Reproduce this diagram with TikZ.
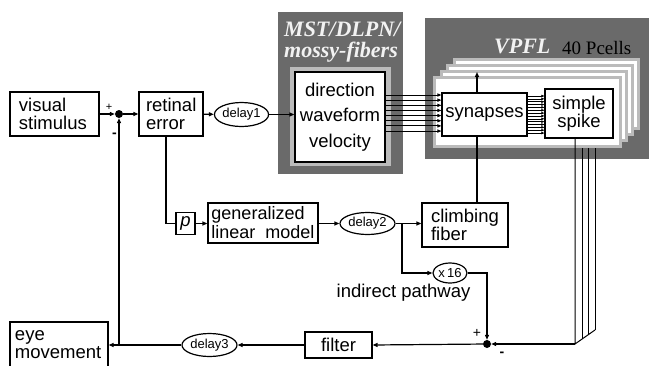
\documentclass[tikz,border=0pt]{standalone}
\usepackage{fontspec}
\setmainfont{Liberation Serif}
\setsansfont{Liberation Sans}
\usetikzlibrary{arrows.meta,calc,shapes.geometric}

\definecolor{panel}{HTML}{6A6A6A}
\definecolor{rim}{HTML}{BBBBBB}
\definecolor{title}{HTML}{F2F2F2}

\begin{document}
\begin{tikzpicture}[x=1pt,y=-1pt,
  lab/.style={font=\sffamily\fontsize{18.5}{18}\selectfont},
  box/.style={draw, line width=1.2pt, fill=white, inner sep=0pt, lab},
  lbox/.style={box, align=left},
  oval/.style={draw, ellipse, line width=1.2pt, fill=white, inner sep=0pt,
               font=\sffamily\fontsize{13}{13}\selectfont},
  sumdot/.style={circle, fill=black, inner sep=0pt, minimum size=8pt},
  wire/.style={line width=1.2pt},
  arr/.style={wire, -{Triangle[length=5pt,width=4pt]}},
  fanin/.style={line width=0.9pt, -{Triangle[length=4pt,width=3.2pt]}},
  dense/.style={line width=0.6pt, -{Triangle[length=3pt,width=2.4pt]}},
  ttl/.style={font=\rmfamily\bfseries\itshape\fontsize{22}{20}\selectfont,
              text=title, inner sep=0pt},
  sign/.style={font=\sffamily\fontsize{14}{14}\selectfont, inner sep=0pt}
]
\useasboundingbox (0,0) rectangle (649,365);
\clip (0,0) rectangle (649,365);

% ---- blocks outside the panels ----
\node[lbox, text width=71pt, inner xsep=9pt, minimum height=44pt] (vs) at (54.5,114) {visual\\stimulus};
\node[sumdot] (s1) at (119,114) {};
\node[lbox, text width=50pt, inner xsep=7pt, minimum height=44pt] (re) at (171,114) {retinal\\error};
\node[oval, minimum width=49pt, minimum height=24pt] (d1) at (241.5,114.5) {delay1};

\node[box, minimum width=19pt, minimum height=22pt,
      font=\sffamily\itshape\fontsize{18.5}{18}\selectfont] (p) at (185.5,223.5) {p};
\node[lbox, minimum width=110pt, minimum height=40pt,
      font=\sffamily\fontsize{18}{19}\selectfont] (glm) at (263,223) {generalized\\linear\ \ model};
\node[oval, minimum width=55pt, minimum height=22pt] (d2) at (367.5,223.5) {delay2};
\node[lbox, text width=68pt, inner xsep=9pt, minimum height=44pt] (cf) at (465,225) {climbing\\fiber};
\node[oval, minimum width=34pt, minimum height=20pt] (x16) at (450,273) {x\,16};
\node[lab, anchor=base, inner sep=0pt] (ip) at (403.5,297) {indirect pathway};

\node[sumdot] (s2) at (487,344) {};
\node[box, minimum width=67pt, minimum height=26pt] (flt) at (338.5,345) {filter};
\node[oval, minimum width=55pt, minimum height=23pt] (d3) at (209.5,345) {delay3};
\node[lbox, text width=88pt, inner xsep=5pt, minimum height=46pt] (em) at (59,345) {eye\\movement};

% ---- MST / DLPN / mossy fibres panel ----
\fill[panel] (278,12) rectangle (403,174);
\fill[rim] (290,67) rectangle (391,166);
\node[ttl, anchor=base west] (mstA) at (284,36.5) {MST/DLPN/};
\node[ttl, anchor=base west] (mstB) at (284,57) {mossy-fibers};
\node[box, minimum width=90pt, minimum height=90pt, align=center,
      font=\sffamily\fontsize{18.5}{25.5}\selectfont] (wb) at (340,117) {direction\\waveform\\velocity};

% ---- VPFL panel with a stack of Purkinje-cell sheets ----
\fill[panel] (425,18) rectangle (649,159);
\node[ttl, anchor=base west] (vpfl) at (494,53) {VPFL};
\node[font=\rmfamily\fontsize{19}{19}\selectfont, anchor=base west, inner sep=0pt] (pcells) at (562,54) {40 Pcells};

\coordinate (b0) at (575,344);
\coordinate (b1) at (582,339);
\coordinate (b2) at (588.5,334.5);
\coordinate (b3) at (595,330);
\coordinate (fb) at (433,148);
\foreach \b in {b1,b2,b3} \draw[line width=1pt] (\b) -- (\b |- fb);

\foreach \k in {3,2,1,0}{
  \fill[rim] (433+6.7*\k,76-6*\k) rectangle (622+6*\k,148-6*\k);
  \fill[white] (436+6.7*\k,79-6*\k) rectangle (619+6*\k,145-6*\k);
}

% climbing fibre input rising through the synapse block
\coordinate (cftop) at (477,72);
\draw[arr] (cftop |- cf.north) -- (cftop);

\node[box, minimum width=85pt, minimum height=43pt] (syn) at (484.5,114.5) {synapses};
\node[box, minimum width=68pt, minimum height=49pt, align=center] (ss) at (579,113.5) {simple\\spike};

% mossy fibre inputs and parallel synaptic outputs
\foreach \i in {0,...,7}
  \draw[fanin] (wb.east |- 0,95+\i*5.15) -- (syn.west |- 0,95+\i*5.15);
\foreach \i in {0,...,13}
  \draw[dense] (syn.east |- 0,96+\i*2.85) -- (ss.west |- 0,96+\i*2.85);

% Purkinje outputs gathered toward the summing point
\draw[line width=1pt] (b0 |- ss.south) -- (b0) -- (b3);
\draw[arr] (b0) -- (s2);

% ---- connectors ----
\draw[arr] (vs) -- (s1);
\draw[arr] (s1) -- (re);
\draw[arr] (re) -- (d1);
\draw[arr] (d1) -- (d1 -| wb.west);

\coordinate (rp) at (166,136);
\draw[wire] (rp |- re.south) |- (p.west);
\draw[arr] (p.east) -- (p.east -| glm.west);
\draw[arr] (glm.east |- d2) -- (d2.west);
\draw[arr] (d2.east) -- (d2.east -| cf.west);
\coordinate (br) at (402,223.5);
\draw[arr] (br) |- (x16.west);
\draw[arr] (x16.east) -| (s2);

\draw[arr] (s2) -- (flt.east);
\draw[arr] (flt.west) -- (d3.east);
\draw[arr] (d3.west) -- (em.east);
\draw[arr] (s1 |- d3.west) -- (s1);

% ---- summing signs ----
\node[sign, font=\sffamily\fontsize{11}{11}\selectfont] (pl1) at (109,107) {+};
\node[sign, font=\sffamily\bfseries\fontsize{14}{14}\selectfont] (mi1) at (114.5,135) {-};
\node[sign] (pl2) at (477,333) {+};
\node[sign, font=\sffamily\bfseries\fontsize{14}{14}\selectfont] (mi2) at (502,354) {-};
\end{tikzpicture}
\end{document}
